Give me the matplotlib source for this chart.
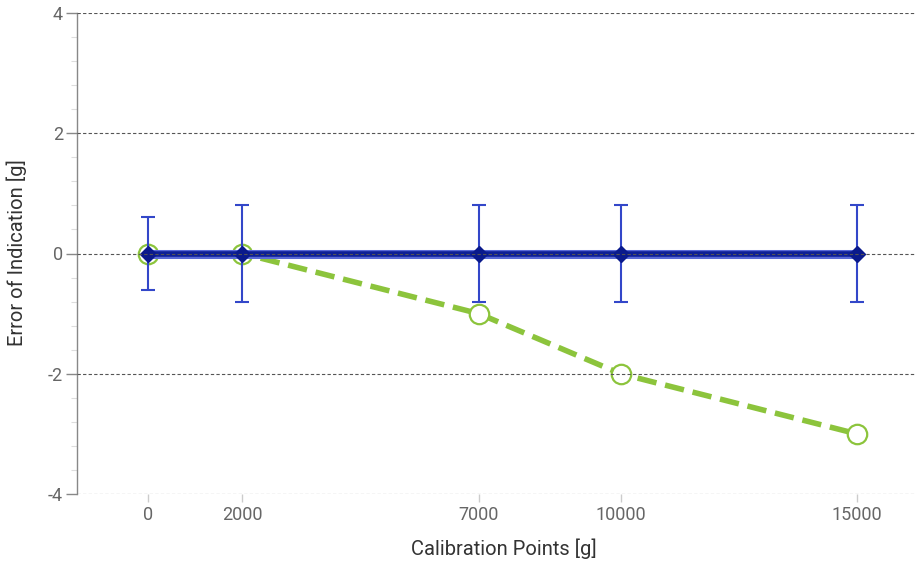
import matplotlib
matplotlib.use("Agg")
import matplotlib.pyplot as plt
from matplotlib.ticker import MultipleLocator

plt.rcParams['font.family'] = ['Roboto', 'DejaVu Sans']

calibration_points = [0, 2000, 7000, 10000, 15000]
reference_error = [0, 0, 0, 0, 0]
uncertainty = [0.6, 0.8, 0.8, 0.8, 0.8]
measured_error = [0, 0, -1, -2, -3]
x_ticks = [0, 2000, 7000, 10000, 15000]
y_ticks = [-4, -2, 0, 2, 4]

W, H = 917, 564
fig = plt.figure(figsize=(W / 100, H / 100), dpi=100)
ax = fig.add_axes([77 / W, 1 - 494 / H, (916 - 77) / W, (494 - 13) / H])

ax.set_xlim(-1500, 16250)
ax.set_ylim(-4, 4)

# measured error (drawn beneath the reference line)
ax.plot(calibration_points, measured_error, color='#8cc43c', lw=4,
        linestyle=(0, (3.5, 1.6)), zorder=2)
ax.plot(calibration_points, measured_error, linestyle='none', marker='o',
        markersize=14, markerfacecolor='white', markeredgecolor='#8cc43c',
        markeredgewidth=1.6, zorder=2.5)

# reference line with uncertainty bars
ax.errorbar(calibration_points, reference_error, yerr=uncertainty, fmt='none',
            ecolor='#3347c9', elinewidth=1.5, capsize=5, capthick=1.5, zorder=3)
ax.plot(calibration_points, reference_error, color='#5a6ad6', lw=6.5,
        solid_capstyle='butt', zorder=3)
ax.plot(calibration_points, reference_error, color='#0d1f96', lw=4,
        marker='D', markersize=8, markerfacecolor='#0a1a8c',
        markeredgecolor='#0a1a8c', solid_capstyle='butt', zorder=4)

# dashed horizontal grid drawn above the reference line
for y in y_ticks:
    ax.axhline(y, color='#555555', lw=0.8, linestyle=(0, (3, 2)), zorder=4.5)

ax.set_xticks(x_ticks)
ax.set_xticklabels([str(v) for v in x_ticks])
ax.set_yticks(y_ticks)
ax.set_yticklabels([str(v) for v in y_ticks])
ax.yaxis.set_minor_locator(MultipleLocator(0.4))

for s in ['top', 'right', 'bottom']:
    ax.spines[s].set_visible(False)
ax.spines['left'].set_color('#888888')
ax.spines['left'].set_linewidth(1)

ax.tick_params(axis='y', which='major', length=8, width=1, color='#888888',
               labelsize=13, labelcolor='#666666', pad=2)
ax.tick_params(axis='y', which='minor', length=4, width=0.8, color='#dddddd')
ax.tick_params(axis='x', which='major', length=6, width=1, color='#cccccc',
               labelsize=13, labelcolor='#666666', pad=3)

fig.text(504 / W, 1 - 549 / H, 'Calibration Points [g]', fontsize=14.5,
         color='#333333', ha='center', va='center')
fig.text(17 / W, 1 - 253 / H, 'Error of Indication [g]', fontsize=14.5,
         color='#333333', ha='center', va='center', rotation=90)

fig.savefig('out.png', dpi=100)
